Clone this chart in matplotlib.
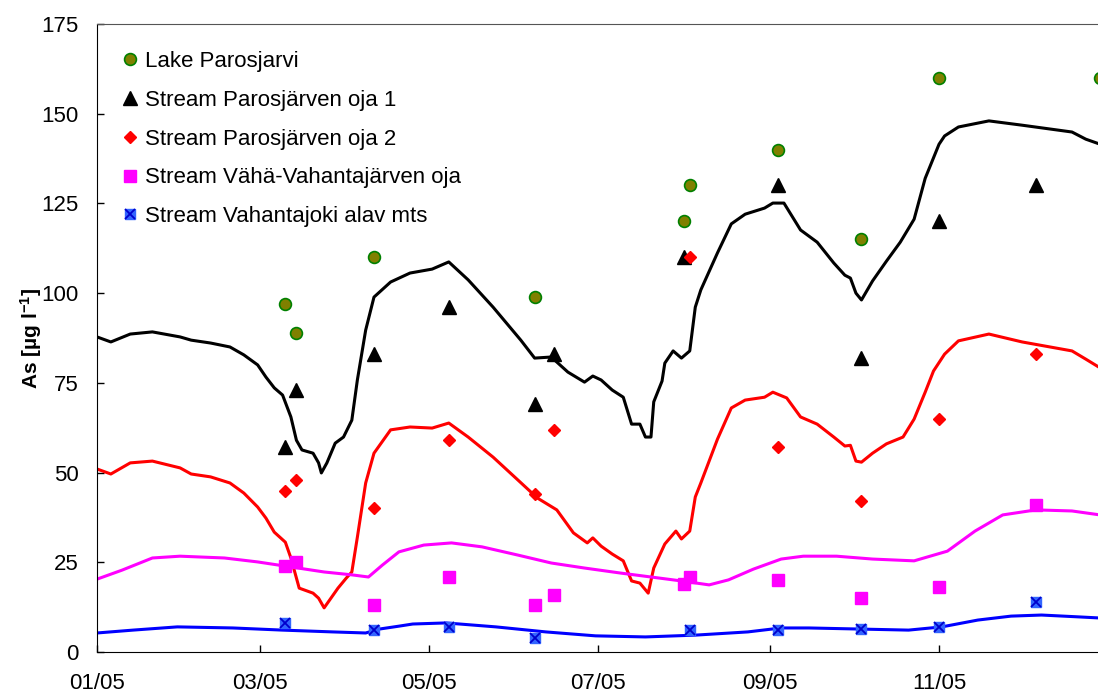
import numpy as np
import matplotlib
matplotlib.use('Agg')
import matplotlib.pyplot as plt
import matplotlib.dates as mdates

plt.rcParams['font.family'] = ['Liberation Sans', 'DejaVu Sans']
plt.rcParams['mathtext.default'] = 'regular'

start = np.datetime64('2005-01-01')

# continuous records, day of 2005 / As [ug/l]
oja1_day = [0, 5, 12, 20, 30, 34, 41, 48, 53, 58, 61, 64, 67, 70, 72, 74, 78, 80, 81, 83, 86, 89, 92, 94, 97,
            100, 106, 113, 121, 127, 134, 143, 153, 158, 164, 170, 176, 179, 182, 186, 190, 193, 196, 198, 200,
            201, 204, 205, 208, 211, 214, 216, 218, 224, 229, 234, 241, 244, 248, 254, 260, 266, 270, 272, 274,
            276, 280, 285, 290, 295, 299, 304, 306, 311, 322, 334, 352, 357, 364]
oja1_val = [87.8, 86.4, 88.6, 89.2, 87.8, 86.9, 86.1, 85.0, 82.8, 80.0, 76.6, 73.6, 71.6, 65.5, 59.0, 56.3, 55.4,
            52.7, 49.9, 52.7, 58.2, 59.9, 64.6, 75.8, 89.7, 98.9, 103.1, 105.6, 106.7, 108.7, 103.7, 96.1, 86.9,
            81.9, 82.2, 78.0, 75.2, 76.9, 75.8, 73.0, 71.0, 63.5, 63.5, 59.9, 59.9, 69.7, 75.5, 80.5, 83.9, 81.9,
            83.9, 96.1, 100.9, 111.2, 119.3, 122.0, 123.7, 125.1, 125.1, 117.6, 114.2, 108.4, 105.0, 104.2, 100.0,
            98.1, 103.4, 108.9, 114.2, 120.6, 132.0, 141.5, 143.8, 146.3, 148.0, 146.8, 144.9, 142.9, 141.0]

oja2_day = [0, 5, 12, 20, 30, 34, 41, 48, 53, 58, 61, 64, 68, 70, 73, 78, 80, 82, 84, 87, 90, 92, 94, 97,
            100, 106, 113, 121, 127, 134, 143, 152, 159, 166, 172, 177, 179, 182, 186, 190, 193, 196, 199, 201,
            205, 209, 211, 214, 216, 218, 224, 229, 234, 241, 244, 249, 254, 260, 266, 270, 272, 274, 276, 280,
            285, 291, 295, 299, 302, 306, 311, 322, 334, 352, 357, 364]
oja2_val = [51.0, 49.6, 52.7, 53.2, 51.3, 49.6, 48.8, 47.1, 44.3, 40.4, 37.3, 33.4, 30.6, 26.2, 17.8, 16.4, 15.0,
            12.3, 14.5, 17.8, 20.6, 22.3, 32.0, 47.1, 55.4, 61.9, 62.7, 62.4, 63.8, 59.9, 54.3, 47.9, 42.9, 39.6,
            33.2, 30.4, 31.8, 29.5, 27.3, 25.4, 19.8, 19.2, 16.4, 23.4, 30.1, 33.7, 31.5, 33.7, 43.2, 47.1, 59.3,
            68.0, 70.2, 71.0, 72.4, 70.8, 65.5, 63.5, 59.9, 57.4, 57.6, 53.2, 52.9, 55.4, 58.0, 59.9, 64.9, 72.4,
            78.3, 83.0, 86.7, 88.6, 86.4, 83.9, 81.6, 78.3]

vaha_day = [0, 9, 20, 30, 46, 58, 70, 82, 92, 98, 103, 109, 118, 128, 139, 152, 164, 176, 189, 211, 221, 228,
            237, 247, 255, 267, 280, 295, 307, 317, 327, 339, 352, 364]
vaha_val = [20.3, 22.8, 26.2, 26.7, 26.2, 25.1, 23.7, 22.3, 21.5, 20.9, 24.2, 27.9, 29.8, 30.4, 29.3, 27.0, 24.8,
            23.4, 22.0, 19.8, 18.7, 20.1, 23.1, 25.9, 26.7, 26.7, 25.9, 25.4, 28.1, 33.7, 38.2, 39.6, 39.3, 38.0]

joki_day = [0, 13, 29, 49, 67, 85, 97, 102, 109, 114, 126, 144, 162, 180, 198, 216, 235, 247, 257, 275, 293,
            305, 318, 330, 341, 354, 364]
joki_val = [5.3, 6.1, 7.0, 6.7, 6.1, 5.6, 5.3, 6.4, 7.2, 7.8, 8.1, 7.0, 5.6, 4.5, 4.2, 4.7, 5.6, 6.7, 6.7, 6.4,
            6.1, 7.0, 8.9, 10.0, 10.3, 9.8, 9.4]

# grab samples
lake_dates = ['2005-03-10', '2005-03-14', '2005-04-11', '2005-06-08', '2005-08-01', '2005-08-03',
              '2005-09-04', '2005-10-04', '2005-11-01', '2005-12-29']
lake_as = [97, 89, 110, 99, 120, 130, 140, 115, 160, 160]

s1_dates = ['2005-03-10', '2005-03-14', '2005-04-11', '2005-05-08', '2005-06-08', '2005-06-15',
            '2005-08-01', '2005-09-04', '2005-10-04', '2005-11-01', '2005-12-06']
s1_as = [57, 73, 83, 96, 69, 83, 110, 130, 82, 120, 130]

s2_dates = ['2005-03-10', '2005-03-14', '2005-04-11', '2005-05-08', '2005-06-08', '2005-06-15',
            '2005-08-03', '2005-09-04', '2005-10-04', '2005-11-01', '2005-12-06']
s2_as = [45, 48, 40, 59, 44, 62, 110, 57, 42, 65, 83]

s3_dates = ['2005-03-10', '2005-03-14', '2005-04-11', '2005-05-08', '2005-06-08', '2005-06-15',
            '2005-08-01', '2005-08-03', '2005-09-04', '2005-10-04', '2005-11-01', '2005-12-06']
s3_as = [24, 25, 13, 21, 13, 16, 19, 21, 20, 15, 18, 41]

s4_dates = ['2005-03-10', '2005-04-11', '2005-05-08', '2005-06-08', '2005-08-03', '2005-09-04',
            '2005-10-04', '2005-11-01', '2005-12-06']
s4_as = [8, 6, 7, 4, 6, 6, 6.5, 7, 14]

xtick_dates = ['2005-01-01', '2005-03-01', '2005-05-01', '2005-07-01', '2005-09-01', '2005-11-01']


def days(d):
    return start + np.array(d, dtype='timedelta64[D]')


fig = plt.figure(figsize=(10.98, 6.95), dpi=100)
ax = fig.add_axes([97 / 1098, 1 - 652 / 695, 1011 / 1098, 628 / 695])

ax.plot(days(oja1_day), oja1_val, color='black', lw=2.2, zorder=2)
ax.plot(days(oja2_day), oja2_val, color='#ff0000', lw=2.2, zorder=2)
ax.plot(days(vaha_day), vaha_val, color='#ff00ff', lw=2.2, zorder=2)
ax.plot(days(joki_day), joki_val, color='#0000ff', lw=2.2, zorder=2)

h1, = ax.plot(np.array(lake_dates, dtype='datetime64[D]'), lake_as, 'o', ms=8.5,
              mfc='#808000', mec='#008000', mew=1.2, ls='none', zorder=3)
h2, = ax.plot(np.array(s1_dates, dtype='datetime64[D]'), s1_as, '^', ms=9.5,
              color='black', ls='none', zorder=3)
h3, = ax.plot(np.array(s2_dates, dtype='datetime64[D]'), s2_as, 'D', ms=6.5,
              color='#ff0000', ls='none', zorder=3)
h4, = ax.plot(np.array(s3_dates, dtype='datetime64[D]'), s3_as, 's', ms=8.5,
              color='#ff00ff', ls='none', zorder=3)
h5a, = ax.plot(np.array(s4_dates, dtype='datetime64[D]'), s4_as, 's', ms=7.5,
               mfc='#3366ff', mec='#3366ff', ls='none', zorder=3)
h5b, = ax.plot(np.array(s4_dates, dtype='datetime64[D]'), s4_as, 'x', ms=7.5,
               mec='#0000cc', mew=1.3, ls='none', zorder=4)

ax.legend([h1, h2, h3, h4, (h5a, h5b)],
          ['Lake Parosjarvi', 'Stream Parosjärven oja 1', 'Stream Parosjärven oja 2',
           'Stream Vähä-Vahantajärven oja', 'Stream Vahantajoki alav mts'],
          loc='upper left', bbox_to_anchor=(0.024, 0.957), frameon=False, fontsize=16,
          handlelength=0.8, handletextpad=0.25, labelspacing=0.8, borderpad=0, borderaxespad=0)

ax.set_xlim(start, np.datetime64('2006-01-01'))
ax.set_ylim(0, 175)
ax.set_yticks(np.arange(0, 176, 25))
ax.set_xticks(np.array(xtick_dates, dtype='datetime64[D]'))
ax.xaxis.set_major_formatter(mdates.DateFormatter('%m/%y'))
ax.tick_params(direction='in', length=5, width=1, labelsize=16)
ax.tick_params(axis='y', pad=13)
ax.tick_params(axis='x', pad=15)

ax.spines['top'].set_color('#555555')
ax.spines['right'].set_visible(False)

ax.set_ylabel('As [µg l$^{-1}$]', fontsize=15, fontweight='bold', labelpad=-2)

fig.savefig('out.png', dpi=100)
